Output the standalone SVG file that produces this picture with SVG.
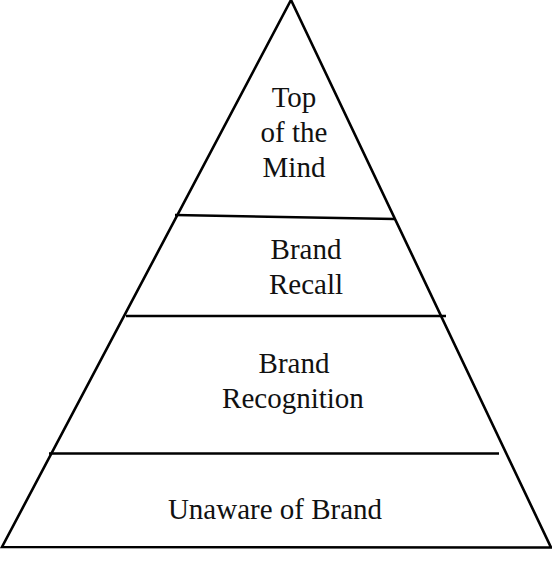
<svg xmlns="http://www.w3.org/2000/svg" width="552" height="578" viewBox="0 0 552 578">
<style>
.ln{stroke:#000;stroke-width:2.6;fill:none;stroke-linejoin:miter}
.t{font-family:"Liberation Serif","Times New Roman",serif;font-size:29px;fill:#111;text-anchor:middle}
</style>
<rect width="552" height="578" fill="#fff"/>
<g id="pyramid">
<polygon class="ln" points="291,0 2,547 551,547.5"/>
</g>
<g id="connectors">
<line class="ln" x1="175" y1="215" x2="395" y2="219"/>
<line class="ln" x1="126" y1="316" x2="446" y2="316"/>
<line class="ln" x1="49" y1="453.5" x2="499" y2="453.5"/>
</g>
<g id="top-of-mind">
<text class="t" x="294" y="107">Top</text>
<text class="t" x="294" y="142">of the</text>
<text class="t" x="294" y="177">Mind</text>
</g>
<g id="brand-recall">
<text class="t" x="306" y="259">Brand</text>
<text class="t" x="306" y="294">Recall</text>
</g>
<g id="brand-recognition">
<text class="t" x="294" y="373">Brand</text>
<text class="t" x="293" y="408">Recognition</text>
</g>
<g id="unaware">
<text class="t" x="275" y="519">Unaware of Brand</text>
</g>
</svg>
